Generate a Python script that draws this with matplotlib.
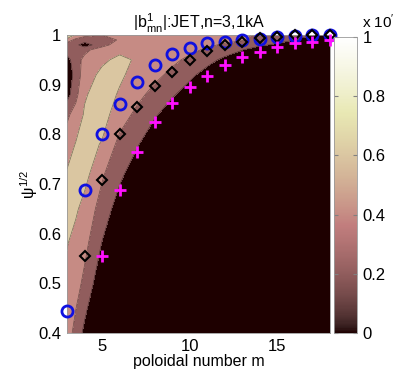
#!/usr/bin/env python3
"""Contour map of |b_mn| over poloidal number and psi^(1/2), with resonance markers."""

import matplotlib
matplotlib.use("Agg")
import matplotlib.pyplot as plt  # type: ignore
import numpy as np  # type: ignore
from matplotlib import ticker  # type: ignore
from matplotlib.cm import ScalarMappable  # type: ignore
from matplotlib.colors import Normalize  # type: ignore

plt.rcParams["font.family"] = ["Liberation Sans", "DejaVu Sans"]
plt.rcParams["mathtext.fontset"] = "custom"
plt.rcParams["mathtext.rm"] = "Liberation Sans"
plt.rcParams["mathtext.it"] = "Liberation Sans"

# grid of the contour field (x 10^-4 units)
m_grid = [3, 3.5, 4, 5, 6, 7, 8, 9, 10, 11, 12, 13, 14, 15, 16, 17, 18]
psi_grid = [0.40, 0.50, 0.58, 0.65, 0.72, 0.78, 0.84, 0.88, 0.92, 0.95,
            0.97, 0.98, 0.99, 1.00]
b_field = [
    [0.50, 0.33, 0.15, 0.03, 0.02, 0.02, 0.02, 0.02, 0.02, 0.02, 0.02, 0.02, 0.02, 0.02, 0.02, 0.02, 0.02],
    [0.55, 0.48, 0.35, 0.05, 0.02, 0.02, 0.02, 0.02, 0.02, 0.02, 0.02, 0.02, 0.02, 0.02, 0.02, 0.02, 0.02],
    [0.61, 0.53, 0.46, 0.19, 0.04, 0.02, 0.02, 0.02, 0.02, 0.02, 0.02, 0.02, 0.02, 0.02, 0.02, 0.02, 0.02],
    [0.68, 0.63, 0.53, 0.32, 0.10, 0.03, 0.02, 0.02, 0.02, 0.02, 0.02, 0.02, 0.02, 0.02, 0.02, 0.02, 0.02],
    [0.62, 0.68, 0.67, 0.425, 0.247, 0.073, 0.02, 0.02, 0.02, 0.02, 0.02, 0.02, 0.02, 0.02, 0.02, 0.02, 0.02],
    [0.50, 0.61, 0.68, 0.585, 0.341, 0.22, 0.05, 0.02, 0.02, 0.02, 0.02, 0.02, 0.02, 0.02, 0.02, 0.02, 0.02],
    [0.36, 0.48, 0.62, 0.68, 0.495, 0.353, 0.226, 0.096, 0.03, 0.02, 0.02, 0.02, 0.02, 0.02, 0.02, 0.02, 0.02],
    [0.12, 0.34, 0.58, 0.69, 0.58, 0.455, 0.336, 0.222, 0.112, 0.04, 0.02, 0.02, 0.02, 0.02, 0.02, 0.02, 0.02],
    [0.05, 0.28, 0.50, 0.65, 0.63, 0.537, 0.451, 0.355, 0.242, 0.128, 0.05, 0.02, 0.02, 0.02, 0.02, 0.02, 0.02],
    [0.12, 0.32, 0.45, 0.56, 0.65, 0.576, 0.508, 0.441, 0.36, 0.259, 0.157, 0.06, 0.02, 0.02, 0.02, 0.02, 0.02],
    [0.30, 0.30, 0.35, 0.50, 0.55, 0.55, 0.52, 0.48, 0.44, 0.374, 0.287, 0.205, 0.09, 0.04, 0.02, 0.02, 0.02],
    [0.30, 0.25, 0.10, 0.33, 0.50, 0.52, 0.50, 0.48, 0.45, 0.42, 0.385, 0.311, 0.237, 0.163, 0.08, 0.04, 0.03],
    [0.50, 0.35, 0.30, 0.30, 0.42, 0.47, 0.48, 0.47, 0.46, 0.45, 0.43, 0.415, 0.36, 0.28, 0.20, 0.10, 0.06],
    [0.85, 0.55, 0.45, 0.40, 0.45, 0.45, 0.45, 0.45, 0.45, 0.45, 0.45, 0.42, 0.38, 0.33, 0.27, 0.20, 0.12],
]
levels = [0, 0.2, 0.4, 0.6, 0.8, 1.0]

# marker series
m_circle = [3, 4, 5, 6, 7, 8, 9, 10, 11, 12, 13, 14, 15, 16, 17, 18]
psi_circle = [0.444, 0.688, 0.800, 0.862, 0.906, 0.940, 0.962, 0.974,
              0.984, 0.986, 0.990, 0.992, 0.995, 0.998, 1.0, 1.0]
m_diamond = [4, 5, 6, 7, 8, 9, 10, 11, 12, 13, 14, 15, 16, 17, 18]
psi_diamond = [0.555, 0.708, 0.800, 0.856, 0.898, 0.926, 0.950, 0.968,
               0.980, 0.986, 0.994, 0.996, 1.0, 1.0, 1.0]
m_plus = [5, 6, 7, 8, 9, 10, 11, 12, 13, 14, 15, 16, 17, 18]
psi_plus = [0.556, 0.688, 0.764, 0.824, 0.864, 0.896, 0.918, 0.940,
            0.956, 0.966, 0.976, 0.984, 0.986, 0.990]


def main():
    """Draw and save."""
    fig = plt.figure(figsize=(3.97, 3.71), dpi=100)
    ax = fig.add_axes([67 / 397, 1 - 333 / 371, 263 / 397, 298 / 371])
    cax = fig.add_axes([334 / 397, 1 - 333 / 371, 23 / 397, 296 / 371])

    mm, pp = np.meshgrid(m_grid, psi_grid)
    zz = np.array(b_field)
    band_colors = [plt.cm.pink(lv) for lv in levels[:-1]]
    ax.contourf(mm, pp, zz, levels=levels, colors=band_colors)
    ax.contour(mm, pp, zz, levels=levels[1:-1], colors="k",
               linewidths=0.5, alpha=0.45)

    ax.plot(m_circle, psi_circle, linestyle="none", marker="o", ms=8,
            mfc="none", mec="#1010e0", mew=2, clip_on=False, zorder=5)
    ax.plot(m_diamond, psi_diamond, linestyle="none", marker="D", ms=5.5,
            mfc="none", mec="k", mew=1.5, clip_on=False, zorder=5)
    ax.plot(m_plus, psi_plus, linestyle="none", marker="+", ms=9,
            mec="#ff10ff", mew=2, clip_on=False, zorder=5)

    ax.set_xlim(3, 18)
    ax.set_ylim(0.4, 1.0)
    ax.set_xticks([5, 10, 15])
    ax.set_yticks([0.4, 0.5, 0.6, 0.7, 0.8, 0.9, 1.0])
    ax.yaxis.set_major_formatter(ticker.FormatStrFormatter("%g"))
    ax.tick_params(direction="in", length=0, labelsize=12, pad=4)
    for spine in ax.spines.values():
        spine.set_color("0.6")
        spine.set_linewidth(0.6)

    ax.set_title(r"|b$^1_{mn}$|:JET,n=3,1kA", fontsize=11.5, pad=0)
    ax.set_xlabel("poloidal number m", fontsize=11.5, labelpad=0)
    ax.set_ylabel(r"$\psi^{1/2}$", fontsize=11.5, labelpad=-1)

    smap = ScalarMappable(norm=Normalize(0, 1), cmap="pink")
    cbar = fig.colorbar(smap, cax=cax, ticks=levels)
    cbar.ax.yaxis.set_major_formatter(ticker.FormatStrFormatter("%g"))
    cbar.ax.tick_params(direction="in", length=3, labelsize=12, pad=4,
                        color="0.5", left=True)
    cbar.outline.set_edgecolor("0.6")
    cbar.outline.set_linewidth(0.6)
    fig.text(362 / 397, 1 - 22 / 371, r"x 10$^{\prime}$", fontsize=11,
             va="center", ha="left")

    fig.savefig("out.png", dpi=100)


if __name__ == "__main__":
    main()
